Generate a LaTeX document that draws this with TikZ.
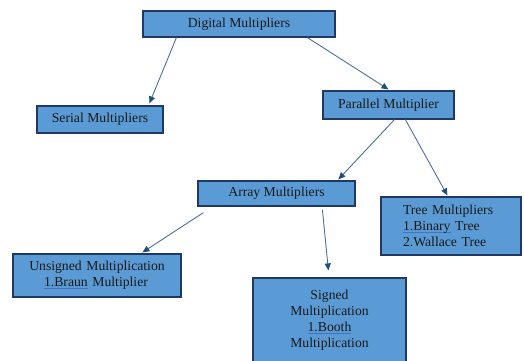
\documentclass[tikz,border=0pt]{standalone}
\usepackage{fontspec}
\setmainfont{Liberation Serif}
\usetikzlibrary{arrows.meta,calc}
\definecolor{boxfill}{HTML}{5B9BD5}
\definecolor{boxline}{HTML}{1F3864}
\definecolor{arrline}{HTML}{4F6E9A}
\definecolor{arrtip}{HTML}{1F4E79}
\definecolor{ulblue}{HTML}{4472C4}
\newcommand\spellul[1]{\setbox0\hbox{#1}\leavevmode\rlap{\color{ulblue}\rule[-2.4pt]{\wd0}{0.7pt}}\box0\relax}
\begin{document}
\begin{tikzpicture}[x=1bp,y=-1bp,
  mbox/.style={draw=boxline, fill=boxfill, line width=1.2bp, inner sep=0pt,
    font=\fontsize{13.7bp}{16bp}\selectfont, text=black!90, align=center},
  conn/.style={draw=arrline, line width=0.9bp, -{Triangle[length=7bp,width=6bp,color=arrtip]}}]
\useasboundingbox (0,0) rectangle (524,360);
\clip (0,0) rectangle (524,360);
\node[mbox, minimum width=192bp, minimum height=26bp] (dm) at (239,24) {Digital Multipliers};
\node[mbox, minimum width=126bp, minimum height=27bp] (ser) at (100,119.5) {Serial Multipliers};
\node[mbox, minimum width=131bp, minimum height=28bp] (par) at (388.5,105) {Parallel Multiplier};
\node[mbox, minimum width=157bp, minimum height=25bp] (arr) at (276.5,193.5) {Array Multipliers};
\node[mbox, minimum width=140bp, minimum height=58bp, text width=96bp, align=left] (tree) at (451,226)
  {Tree Multipliers\\\spellul{1.Binary} Tree\\2.Wallace Tree};
\node[mbox, minimum width=168bp, minimum height=43bp, text width=152bp] (uns) at (97,275.5)
  {Unsigned Multiplication\\\spellul{1.Braun} Multiplier\hspace*{2bp}};
\node[mbox, minimum width=153bp, minimum height=84bp, text width=149bp] (sig) at (329.5,320)
  {Signed\\Multiplication\\\spellul{1.Booth}\\Multiplication};
\draw[conn] ([xshift=34bp]dm.south west) -- ([xshift=113bp,yshift=2bp]ser.north west);
\draw[conn] ([xshift=165bp]dm.south west) -- ([yshift=1bp]par.north);
\draw[conn] ([xshift=72bp]par.south west) -- ([xshift=141bp,yshift=1bp]arr.north west);
\draw[conn] ([xshift=83bp]par.south west) -- ([xshift=67bp,yshift=1bp]tree.north west);
\draw[conn] ([xshift=6bp,yshift=-6bp]arr.south west) -- ([xshift=130bp,yshift=1bp]uns.north west);
\draw[conn] ([xshift=125bp,yshift=-3bp]arr.south west) -- ([xshift=76bp,yshift=7bp]sig.north west);
\end{tikzpicture}
\end{document}
